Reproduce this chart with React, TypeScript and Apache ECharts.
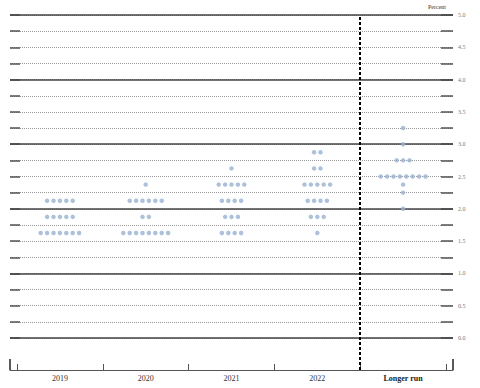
import React, { useEffect, useRef } from "react";
import * as echarts from "echarts";

const categories = ["2019", "2020", "2021", "2022", "Longer run"];
// [rate, number of participants]
const dots2019 = [[2.125, 5], [1.875, 5], [1.625, 7]];
const dots2020 = [[2.375, 1], [2.125, 6], [1.875, 2], [1.625, 8]];
const dots2021 = [[2.625, 1], [2.375, 5], [2.125, 4], [1.875, 3], [1.625, 4]];
const dots2022 = [[2.875, 2], [2.625, 2], [2.375, 5], [2.125, 4], [1.875, 3], [1.625, 1]];
const dotsLongerRun = [[3.25, 1], [3.0, 1], [2.75, 3], [2.5, 8], [2.375, 1], [2.25, 1], [2.0, 1]];
const solidLevels = [0, 1, 2, 3, 4, 5];
const yMin = 0;
const yMax = 5;
const dividerAt = 3.5;

const allDots = [dots2019, dots2020, dots2021, dots2022, dotsLongerRun];

const X_MIN = -0.5816;
const X_MAX = 4.5816;
const SERIF = "'Liberation Serif', 'DejaVu Serif', serif";

export default function App() {
  const ref = useRef<HTMLDivElement>(null);
  useEffect(() => {
    if (!ref.current) return;
    const chart = echarts.init(ref.current, null, { renderer: "svg" });
    const data: any[] = [];
    allDots.forEach((rows, c) => {
      rows.forEach(([v, n]) => {
        for (let i = 0; i < n; i++) {
          data.push({ value: [c, v], symbolOffset: [(i - (n - 1) / 2) * 6.4, 0] });
        }
      });
    });
    chart.setOption({
      animation: false,
      grid: [
        { left: 10, right: 27, top: 15, bottom: 50 },
        { left: 10, right: 27, top: 15, bottom: 18 },
        { left: 17, right: 34, top: 369, height: 1 },
        { left: 10, right: 27, top: 369, height: 1 },
      ],
      xAxis: [
        { gridIndex: 0, type: "value", min: X_MIN, max: X_MAX, show: false },
        { gridIndex: 1, type: "value", min: X_MIN, max: X_MAX, show: false },
        {
          gridIndex: 2,
          type: "category",
          data: categories,
          boundaryGap: true,
          axisLine: { show: true, lineStyle: { color: "#555", width: 1 } },
          axisTick: { show: true, inside: true, length: 6, lineStyle: { color: "#555", width: 1 } },
          axisLabel: {
            margin: 4,
            fontFamily: SERIF,
            fontSize: 8,
            color: "#222222",
            formatter: (v: string) => (v === "Longer run" ? "{b|" + v + "}" : "{n|" + v + "}"),
            rich: {
              b: { fontFamily: SERIF, fontSize: 8, fontWeight: "bold", color: "#222222" },
              n: { fontFamily: SERIF, fontSize: 8, color: "#333333" },
            },
          },
        },
        {
          gridIndex: 3,
          type: "value",
          min: 0,
          max: 1,
          interval: 1,
          axisLine: { show: true, lineStyle: { color: "#555", width: 1 } },
          axisTick: { show: true, inside: true, length: 11, lineStyle: { color: "#222", width: 1.5 } },
          axisLabel: { show: false },
          splitLine: { show: false },
        },
      ],
      yAxis: [
        {
          gridIndex: 0,
          type: "value",
          min: yMin,
          max: yMax,
          interval: 0.25,
          axisLine: { show: false, onZero: false },
          axisTick: { show: true, inside: true, length: 10, lineStyle: { color: "#555", width: 1.5 } },
          axisLabel: { show: false },
          splitLine: { show: true, lineStyle: { color: "#999", type: [1, 1], width: 1 } },
        },
        {
          gridIndex: 0,
          type: "value",
          position: "right",
          min: yMin,
          max: yMax,
          interval: 0.25,
          axisLine: { show: false, onZero: false },
          axisTick: { show: true, inside: true, length: 12, lineStyle: { color: "#555", width: 1.5 } },
          axisLabel: {
            show: true,
            margin: 5,
            fontFamily: SERIF,
            fontSize: 6,
            color: "#777",
            formatter: (v: number) => (Math.abs(v * 2 - Math.round(v * 2)) < 1e-6 ? v.toFixed(1) : ""),
          },
          splitLine: { show: false },
        },
        { gridIndex: 1, type: "value", min: 0, max: 1, show: false },
        { gridIndex: 2, type: "value", show: false },
        { gridIndex: 3, type: "value", show: false },
      ],
      graphic: [
        {
          type: "text",
          right: 34,
          top: 4,
          style: { text: "Percent", fontFamily: SERIF, fontSize: 6, fill: "#333" },
        },
      ],
      series: [
        {
          type: "scatter",
          xAxisIndex: 0,
          yAxisIndex: 0,
          symbol: "circle",
          symbolSize: 4.5,
          itemStyle: { color: "#98b3d1" },
          data,
          z: 5,
          markLine: {
            silent: true,
            symbol: "none",
            label: { show: false },
            lineStyle: { color: "#444", type: "solid", width: 1.5 },
            data: solidLevels.map((y) => ({ yAxis: y })),
            z: 3,
          },
        },
        {
          type: "scatter",
          xAxisIndex: 1,
          yAxisIndex: 2,
          data: [],
          markLine: {
            silent: true,
            symbol: "none",
            label: { show: false },
            lineStyle: { color: "#000", type: [3, 2], width: 2 },
            data: [{ xAxis: dividerAt }],
          },
        },
      ],
    });
    return () => chart.dispose();
  }, []);
  return <div ref={ref} style={{ width: 480, height: 388, position: "absolute", left: 0, top: 0 }} />;
}
